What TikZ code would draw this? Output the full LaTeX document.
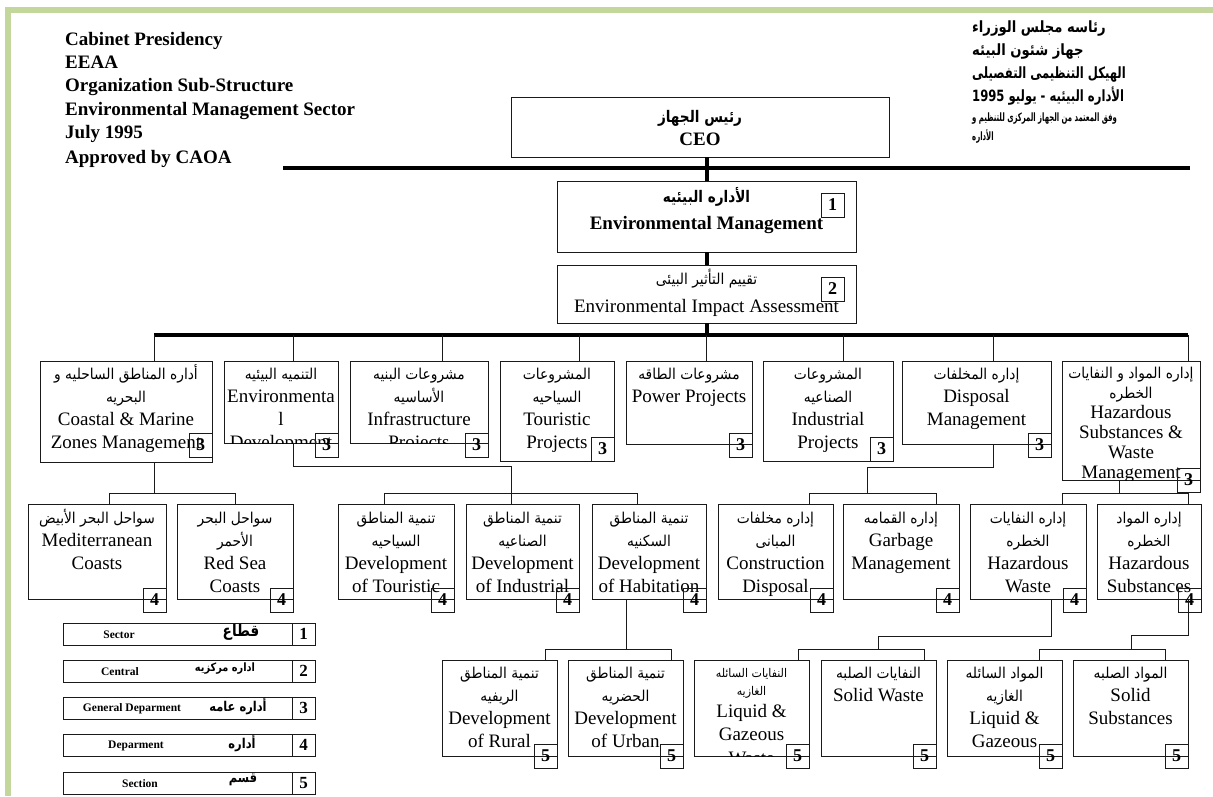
\documentclass[tikz,border=0pt]{standalone}
\usepackage{fontspec}
\setmainfont{Liberation Serif}
\newfontfamily\arabicfont[Script=Arabic]{DejaVu Sans}
\newfontfamily\arabicnarrow[Script=Arabic, FakeStretch=0.92]{DejaVu Sans}
\newfontfamily\arabichead[Script=Arabic, FakeStretch=0.85]{DejaVu Sans}
\newfontfamily\arabiccond[Script=Arabic, FakeStretch=0.75]{DejaVu Sans}
\newfontfamily\arabicsmall[Script=Arabic, FakeStretch=0.6]{DejaVu Sans}
\TeXXeTstate=1
\definecolor{framegreen}{HTML}{C3D69B}
\definecolor{ink}{HTML}{1A1A1A}
% Arabic line in a box (regular weight)
\newcommand\arl[1]{{\arabicnarrow\fontsize{15}{23.3}\selectfont\beginR #1\endR}}
% org box: name, x1, y1, x2, y2, level-cell position, level, baseline offset, text
\newcommand\orgbox[9]{%
  \node[obox, minimum width={(#4-#2)*1pt}, minimum height={(#5-#3)*1pt}] (#1) at (#2,#3) {};
  \begin{scope}
    \clip (#2,#3) rectangle (#4,#5);
    \node[otext] (#1-t) at ({(#2+#4)/2},{#3+#8})
      {\parbox[t]{340pt}{\centering\fontsize{19}{23.3}\selectfont #9}};
  \end{scope}
  \node[numbox] (#1-n) at (#6) {#7};
}
\tikzset{
  obox/.style={draw=ink, line width=1pt, inner sep=0pt, outer sep=0pt, anchor=north west},
  numbox/.style={draw=ink, line width=1pt, inner sep=0pt, outer sep=0pt, anchor=north west,
    minimum width=23pt, minimum height=24pt, font=\bfseries\fontsize{18}{18}\selectfont},
  otext/.style={inner sep=0pt, anchor=base},
  link/.style={draw=ink, line width=1pt},
  bar/.style={draw=black, line width=4pt},
  legbox/.style={draw=ink, line width=1pt, inner sep=0pt, outer sep=0pt, anchor=north west,
    minimum width=229pt, minimum height=22pt},
  legnum/.style={draw=ink, line width=1pt, inner sep=0pt, outer sep=0pt, anchor=north west,
    minimum width=23pt, minimum height=22pt, font=\bfseries\fontsize{17}{17}\selectfont},
  legen/.style={inner sep=0pt, font=\bfseries\fontsize{11.5}{12}\selectfont},
  legar/.style={inner sep=0pt},
}
\begin{document}
\begin{tikzpicture}[x=1pt, y=-1pt]
\useasboundingbox (0,0) rectangle (1213,796);
% page frame
\fill[framegreen] (5,7) rectangle (1213,13);
\fill[framegreen] (5,7) rectangle (11,796);

% headings
\node[anchor=base west, inner sep=0pt] (hdrL) at (65,45.5)
  {\parbox[t]{330pt}{\bfseries\fontsize{19}{23.2}\selectfont
   Cabinet Presidency\\ EEAA\\ Organization Sub-Structure\\ Environmental Management Sector\\ July 1995\\[1.5pt] Approved by CAOA}};
\node[anchor=base west, inner sep=0pt] (hdrR) at (972,32)
  {\parbox[t]{220pt}{\raggedright\bfseries\fontsize{15.5}{23.3}\selectfont
   {\arabichead\beginR رئاسه مجلس الوزراء\endR}\\
   {\arabichead\beginR جهاز شئون البيئه\endR}\\
   {\arabiccond\beginR الهيكل التنظيمى التفصيلى\endR}\\
   {\arabiccond\beginR الأداره البيئيه - يوليو \beginL 1995\endL\endR}}};
\node[anchor=base west, inner sep=0pt] (hdrR2) at (972,121)
  {\parbox[t]{220pt}{\raggedright\arabicsmall\bfseries\fontsize{11.5}{19}\selectfont
   \beginR وفق المعتمد من الجهاز المركزى للتنظيم و\endR\\
   \beginR الأداره\endR}};

% top of the chart
\node[obox, minimum width=378pt, minimum height=60pt] (ceo) at (511,97) {};
\node[otext] (ceo-t) at (700,122)
  {\parbox[t]{300pt}{\centering\fontsize{19}{23}\selectfont\bfseries
   {\arabichead\fontsize{16}{23}\selectfont\beginR رئيس الجهاز\endR}\\ CEO}};

\orgbox{em}{557}{181}{856}{252}{821,193}{1}{21}
  {{\arabichead\bfseries\fontsize{16}{23.3}\selectfont\beginR الأداره البيئيه\endR}\\[4pt] \bfseries Environmental Management}
\orgbox{eia}{557}{265}{856}{323}{821,277}{2}{19}
  {{\arabicnarrow\fontsize{15}{23.3}\selectfont\beginR تقييم التأثير البيئى\endR}\\[5pt] Environmental Impact Assessment}

% general departments
\orgbox{coast}{40}{361}{212}{462}{189,433}{3}{18}
  {\arl{أداره المناطق الساحليه و}\\ \arl{البحريه}\\ Coastal \& Marine\\ Zones Management}
\orgbox{envdev}{224}{361}{338}{443}{315,433}{3}{18}
  {\arl{التنميه البيئيه}\\ Environmenta\\ l\\ Development}
\orgbox{infra}{350}{361}{488}{443}{465,433}{3}{18}
  {\arl{مشروعات البنيه}\\ \arl{الأساسيه}\\ Infrastructure\\ Projects}
\orgbox{tour}{500}{361}{614}{461}{591,437}{3}{18}
  {\arl{المشروعات}\\ \arl{السياحيه}\\ Touristic\\ Projects}
\orgbox{power}{626}{361}{752}{444}{729,433}{3}{18}
  {\arl{مشروعات الطاقه}\\ Power Projects}
\orgbox{indus}{763}{361}{893}{461}{870,437}{3}{18}
  {\arl{المشروعات}\\ \arl{الصناعيه}\\ Industrial\\ Projects}
\orgbox{disp}{902}{361}{1051}{444}{1028,433}{3}{18}
  {\arl{إداره المخلفات}\\ Disposal\\ Management}
\orgbox{hswm}{1062}{361}{1200}{480}{1177,468}{3}{17}
  {\fontsize{19}{20}\selectfont\arl{إداره المواد و النفايات}\\ \arl{الخطره}\\ Hazardous\\ Substances \&\\ Waste\\ Management}

% departments
\orgbox{med}{28}{504}{166}{599}{143,588}{4}{19}
  {\arl{سواحل البحر الأبيض}\\ Mediterranean\\ Coasts}
\orgbox{red}{177}{504}{293}{599}{270,588}{4}{19}
  {\arl{سواحل البحر}\\ \arl{الأحمر}\\ Red Sea\\ Coasts}
\orgbox{dtour}{338}{504}{454}{599}{431,588}{4}{19}
  {\arl{تنمية المناطق}\\ \arl{السياحيه}\\ Development\\ of Touristic}
\orgbox{dind}{466}{504}{579}{599}{556,588}{4}{19}
  {\arl{تنمية المناطق}\\ \arl{الصناعيه}\\ Development\\ of Industrial}
\orgbox{dhab}{592}{504}{706}{599}{683,588}{4}{19}
  {\arl{تنمية المناطق}\\ \arl{السكنيه}\\ Development\\ of Habitation}
\orgbox{cons}{718}{504}{833}{599}{810,588}{4}{19}
  {\arl{إداره مخلفات}\\ \arl{المبانى}\\ Construction\\ Disposal}
\orgbox{garb}{843}{504}{959}{599}{936,588}{4}{19}
  {\arl{إداره القمامه}\\ Garbage\\ Management}
\orgbox{hwaste}{970}{504}{1086}{599}{1063,588}{4}{19}
  {\arl{إداره النفايات}\\ \arl{الخطره}\\ Hazardous\\ Waste}
\orgbox{hsub}{1097}{504}{1201}{599}{1178,588}{4}{19}
  {\arl{إداره المواد}\\ \arl{الخطره}\\ Hazardous\\ Substances}

% sections
\orgbox{rural}{442}{660}{557}{756}{534,744}{5}{18}
  {\arl{تنمية المناطق}\\ \arl{الريفيه}\\ Development\\ of Rural}
\orgbox{urban}{568}{660}{683}{756}{660,744}{5}{18}
  {\arl{تنمية المناطق}\\ \arl{الحضريه}\\ Development\\ of Urban}
\orgbox{lgw}{694}{660}{809}{756}{786,744}{5}{17}
  {{\arabicnarrow\fontsize{12}{23.3}\selectfont\beginR النفايات السائله\endR}\\[-5pt]
   {\arabicnarrow\fontsize{12}{23.3}\selectfont\beginR الغازيه\endR}\\[-1pt] Liquid \&\\ Gazeous\\ Waste}
\orgbox{sw}{821}{660}{936}{756}{913,744}{5}{18}
  {\arl{النفايات الصلبه}\\ Solid Waste}
\orgbox{lgs}{947}{660}{1062}{756}{1039,744}{5}{18}
  {\arl{المواد السائله}\\ \arl{الغازيه}\\ Liquid \&\\ Gazeous}
\orgbox{ss}{1073}{660}{1188}{756}{1165,744}{5}{18}
  {\arl{المواد الصلبه}\\ Solid\\ Substances}

% heavy bars
\coordinate (b1w) at (283,168);
\coordinate (b1e) at (1190,168);
\coordinate (b2w) at (154,335);
\coordinate (b2e) at (1188,335);
\draw[bar] (b1w) -- (b1e);
\draw[bar] (ceo.south -| em.north) -- (em.north);
\draw[bar] (em.south) -- (eia.north);
\draw[bar] (b2w) -- (b2e);
\draw[bar] (eia.south) -- (eia.south |- b2w);

% drops to the general departments
\coordinate (coast-in) at (154,361);
\coordinate (envdev-in) at (293,361);
\coordinate (infra-in) at (442,361);
\coordinate (tour-in) at (579,361);
\coordinate (power-in) at (706,361);
\coordinate (indus-in) at (843,361);
\coordinate (disp-in) at (993,361);
\coordinate (hswm-in) at (1188,361);
\foreach \n in {coast,envdev,infra,tour,power,indus,disp,hswm}
  \draw[link] (\n-in) -- (\n-in |- b2w);

% general departments to departments
\coordinate (med-in) at (109,504);
\coordinate (red-in) at (235,504);
\coordinate (dtour-in) at (384,504);
\coordinate (dind-in) at (511,504);
\coordinate (dhab-in) at (637,504);
\coordinate (cons-in) at (809,504);
\coordinate (garb-in) at (936,504);
\coordinate (hwaste-in) at (1062,504);
\coordinate (hsub-in) at (1188,504);

\coordinate (coast-out) at (154,462);
\coordinate (j1) at (154,493);
\draw[link] (coast-out) -- (j1);
\draw[link] (med-in) -- (med-in |- j1) -- (red-in |- j1) -- (red-in);

\coordinate (envdev-out) at (293,443);
\coordinate (k1) at (293,466);
\coordinate (jb) at (511,493);
\draw[link] (envdev-out) -- (k1) -- (k1 -| dind-in) -- (dind-in);
\draw[link] (dtour-in) -- (dtour-in |- jb) -- (dhab-in |- jb) -- (dhab-in);

\coordinate (disp-out) at (993,444);
\coordinate (m1) at (993,467);
\coordinate (mj) at (867,493);
\draw[link] (disp-out) -- (m1) -- (m1 -| mj) -- (mj);
\draw[link] (cons-in) -- (cons-in |- mj) -- (garb-in |- mj) -- (garb-in);

\coordinate (hswm-out) at (1119,480);
\coordinate (hj) at (1119,493);
\draw[link] (hswm-out) -- (hj);
\draw[link] (hwaste-in) -- (hwaste-in |- hj) -- (hsub-in |- hj) -- (hsub-in);

% departments to sections
\coordinate (rural-in) at (545,660);
\coordinate (urban-in) at (671,660);
\coordinate (lgw-in) at (798,660);
\coordinate (sw-in) at (924,660);
\coordinate (lgs-in) at (1039,660);
\coordinate (ss-in) at (1165,660);

\coordinate (dhab-out) at (626,599);
\coordinate (hbj) at (626,649);
\draw[link] (dhab-out) -- (hbj);
\draw[link] (rural-in) -- (rural-in |- hbj) -- (urban-in |- hbj) -- (urban-in);

\coordinate (hwaste-out) at (1051,599);
\coordinate (w1) at (1051,636);
\coordinate (wj) at (878,649);
\draw[link] (hwaste-out) -- (w1) -- (w1 -| wj) -- (wj);
\draw[link] (lgw-in) -- (lgw-in |- wj) -- (sw-in |- wj) -- (sw-in);

\coordinate (hsub-out) at (1188,599);
\coordinate (s1) at (1188,635);
\coordinate (sj) at (1131,649);
\draw[link] (hsub-out) -- (s1) -- (s1 -| sj) -- (sj);
\draw[link] (lgs-in) -- (lgs-in |- sj) -- (ss-in |- sj) -- (ss-in);

% legend of levels
\node[legbox] (leg1) at (63,623) {};
\node[legnum] (leg1-n) at (292,623) {1};
\node[legen] (leg1-e) at (119,635) {Sector};
\node[legar] (leg1-a) at (241,632) {\arabichead\bfseries\fontsize{16}{16}\selectfont\beginR قطاع\endR};

\node[legbox] (leg2) at (63,660) {};
\node[legnum] (leg2-n) at (292,660) {2};
\node[legen] (leg2-e) at (120,672) {Central};
\node[legar] (leg2-a) at (225,669) {\arabichead\bfseries\fontsize{11.5}{11.5}\selectfont\beginR اداره مركزيه\endR};

\node[legbox] (leg3) at (63,697) {};
\node[legnum] (leg3-n) at (292,697) {3};
\node[legen] (leg3-e) at (132,709) {General Deparment};
\node[legar] (leg3-a) at (238,706) {\arabichead\bfseries\fontsize{13.5}{13.5}\selectfont\beginR أداره عامه\endR};

\node[legbox] (leg4) at (63,734) {};
\node[legnum] (leg4-n) at (292,734) {4};
\node[legen] (leg4-e) at (136,746) {Deparment};
\node[legar] (leg4-a) at (242,743) {\arabichead\bfseries\fontsize{13.5}{13.5}\selectfont\beginR أداره\endR};

\node[legbox] (leg5) at (63,772) {};
\node[legnum] (leg5-n) at (292,772) {5};
\node[legen] (leg5-e) at (140,784) {Section};
\node[legar] (leg5-a) at (243,780) {\arabichead\bfseries\fontsize{13.5}{13.5}\selectfont\beginR قسم\endR};
\end{tikzpicture}
\end{document}
